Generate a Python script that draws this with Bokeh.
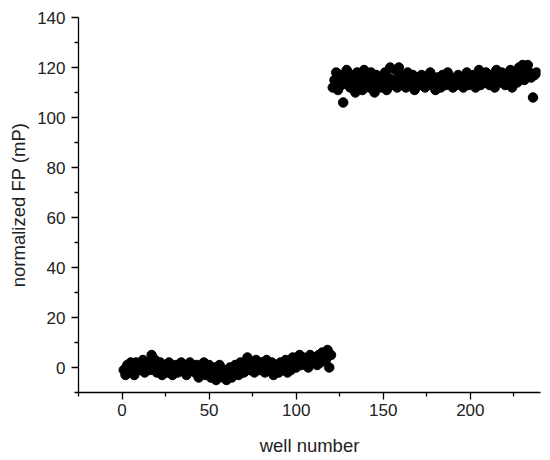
from bokeh.plotting import figure
from bokeh.models import Range1d, FixedTicker
from bokeh.embed import file_html
from bokeh.resources import INLINE

wells_low = list(range(1, 121))
fp_low = [
    -1, -3, 1, -2, 2, 0, -3, 2, 1, -1,
    0, 3, -2, 1, 2, -1, 5, 0, 3, -2,
    1, 2, -3, 0, 1, -2, 2, -1, -3, 0,
    1, -2, 0, 2, -1, 1, -3, 0, 2, -1,
    0, -2, 1, -4, -1, 0, 2, -3, -1, 1,
    -4, -2, 0, -5, -3, 1, -2, -4, -1, -5,
    -3, 0, -4, -2, 1, -1, -3, 2, 0, -2,
    1, 4, -1, 2, 0, -2, 3, 1, -1, 2,
    0, -2, 3, 1, -1, 2, -3, 0, 1, -2,
    2, -1, 0, 3, -2, 1, -1, 4, 2, 0,
    3, 5, 1, 4, 2, 3, 0, 5, 2, 4,
    3, 1, 5, 2, 6, 4, 3, 7, 0, 5,
]

wells_high = list(range(121, 239))
fp_high = [
    112, 115, 118, 111, 117, 113, 106, 116, 119, 114,
    112, 117, 115, 110, 118, 113, 116, 111, 119, 114,
    116, 112, 118, 115, 110, 117, 113, 116, 112, 114,
    118, 111, 116, 120, 113, 115, 119, 112, 120, 117,
    114, 116, 112, 118, 115, 113, 117, 111, 116, 114,
    113, 117, 115, 112, 116, 114, 118, 113, 115, 111,
    116, 114, 112, 117, 115, 113, 118, 114, 116, 112,
    115, 113, 117, 114, 116, 112, 115, 118, 113, 116,
    114, 117, 112, 115, 119, 113, 116, 114, 118, 115,
    113, 117, 115, 112, 119, 116, 114, 118, 115, 113,
    117, 115, 119, 112, 118, 116, 114, 120, 117, 121,
    115, 119, 121, 118, 116, 108, 117, 118,
]

x_ticks = [0, 50, 100, 150, 200]
x_minor = [-25, 25, 75, 125, 175, 225]
y_ticks = [0, 20, 40, 60, 80, 100, 120, 140]
y_minor = [-10, 10, 30, 50, 70, 90, 110, 130]

FONT = "Liberation Sans"

p = figure(width=550, height=460, output_backend="svg", toolbar_location=None,
           x_range=Range1d(-25, 240.3), y_range=Range1d(-10, 140),
           min_border_left=78, min_border_right=10, min_border_top=17,
           min_border_bottom=68)
p.outline_line_color = None
p.grid.visible = False
p.background_fill_color = "white"
p.border_fill_color = "white"

p.scatter(wells_low + wells_high, fp_low + fp_high, size=9.5,
          color="black", line_color="black")

for ax in (p.xaxis[0], p.yaxis[0]):
    ax.axis_line_color = "black"
    ax.axis_line_width = 1.3
    ax.major_tick_line_color = "black"
    ax.minor_tick_line_color = "black"
    ax.major_tick_line_width = 1.3
    ax.minor_tick_line_width = 1.3
    ax.major_tick_out = 7
    ax.major_tick_in = 0
    ax.minor_tick_out = 4
    ax.minor_tick_in = 0
    ax.major_label_text_font = FONT
    ax.major_label_text_font_size = "17px"
    ax.major_label_text_color = "#222222"
    ax.axis_label_text_font = FONT
    ax.axis_label_text_font_size = "18.5px"
    ax.axis_label_text_font_style = "normal"
    ax.axis_label_text_color = "#222222"

p.xaxis.ticker = FixedTicker(ticks=x_ticks, minor_ticks=x_minor)
p.yaxis.ticker = FixedTicker(ticks=y_ticks, minor_ticks=y_minor)
p.xaxis.axis_label = "well number"
p.yaxis.axis_label = "normalized FP (mP)"
p.xaxis.major_label_standoff = 4
p.yaxis.major_label_standoff = 6
p.xaxis.axis_label_standoff = 16
p.yaxis.axis_label_standoff = 5

open("out.html", "w").write(file_html(p, INLINE))
